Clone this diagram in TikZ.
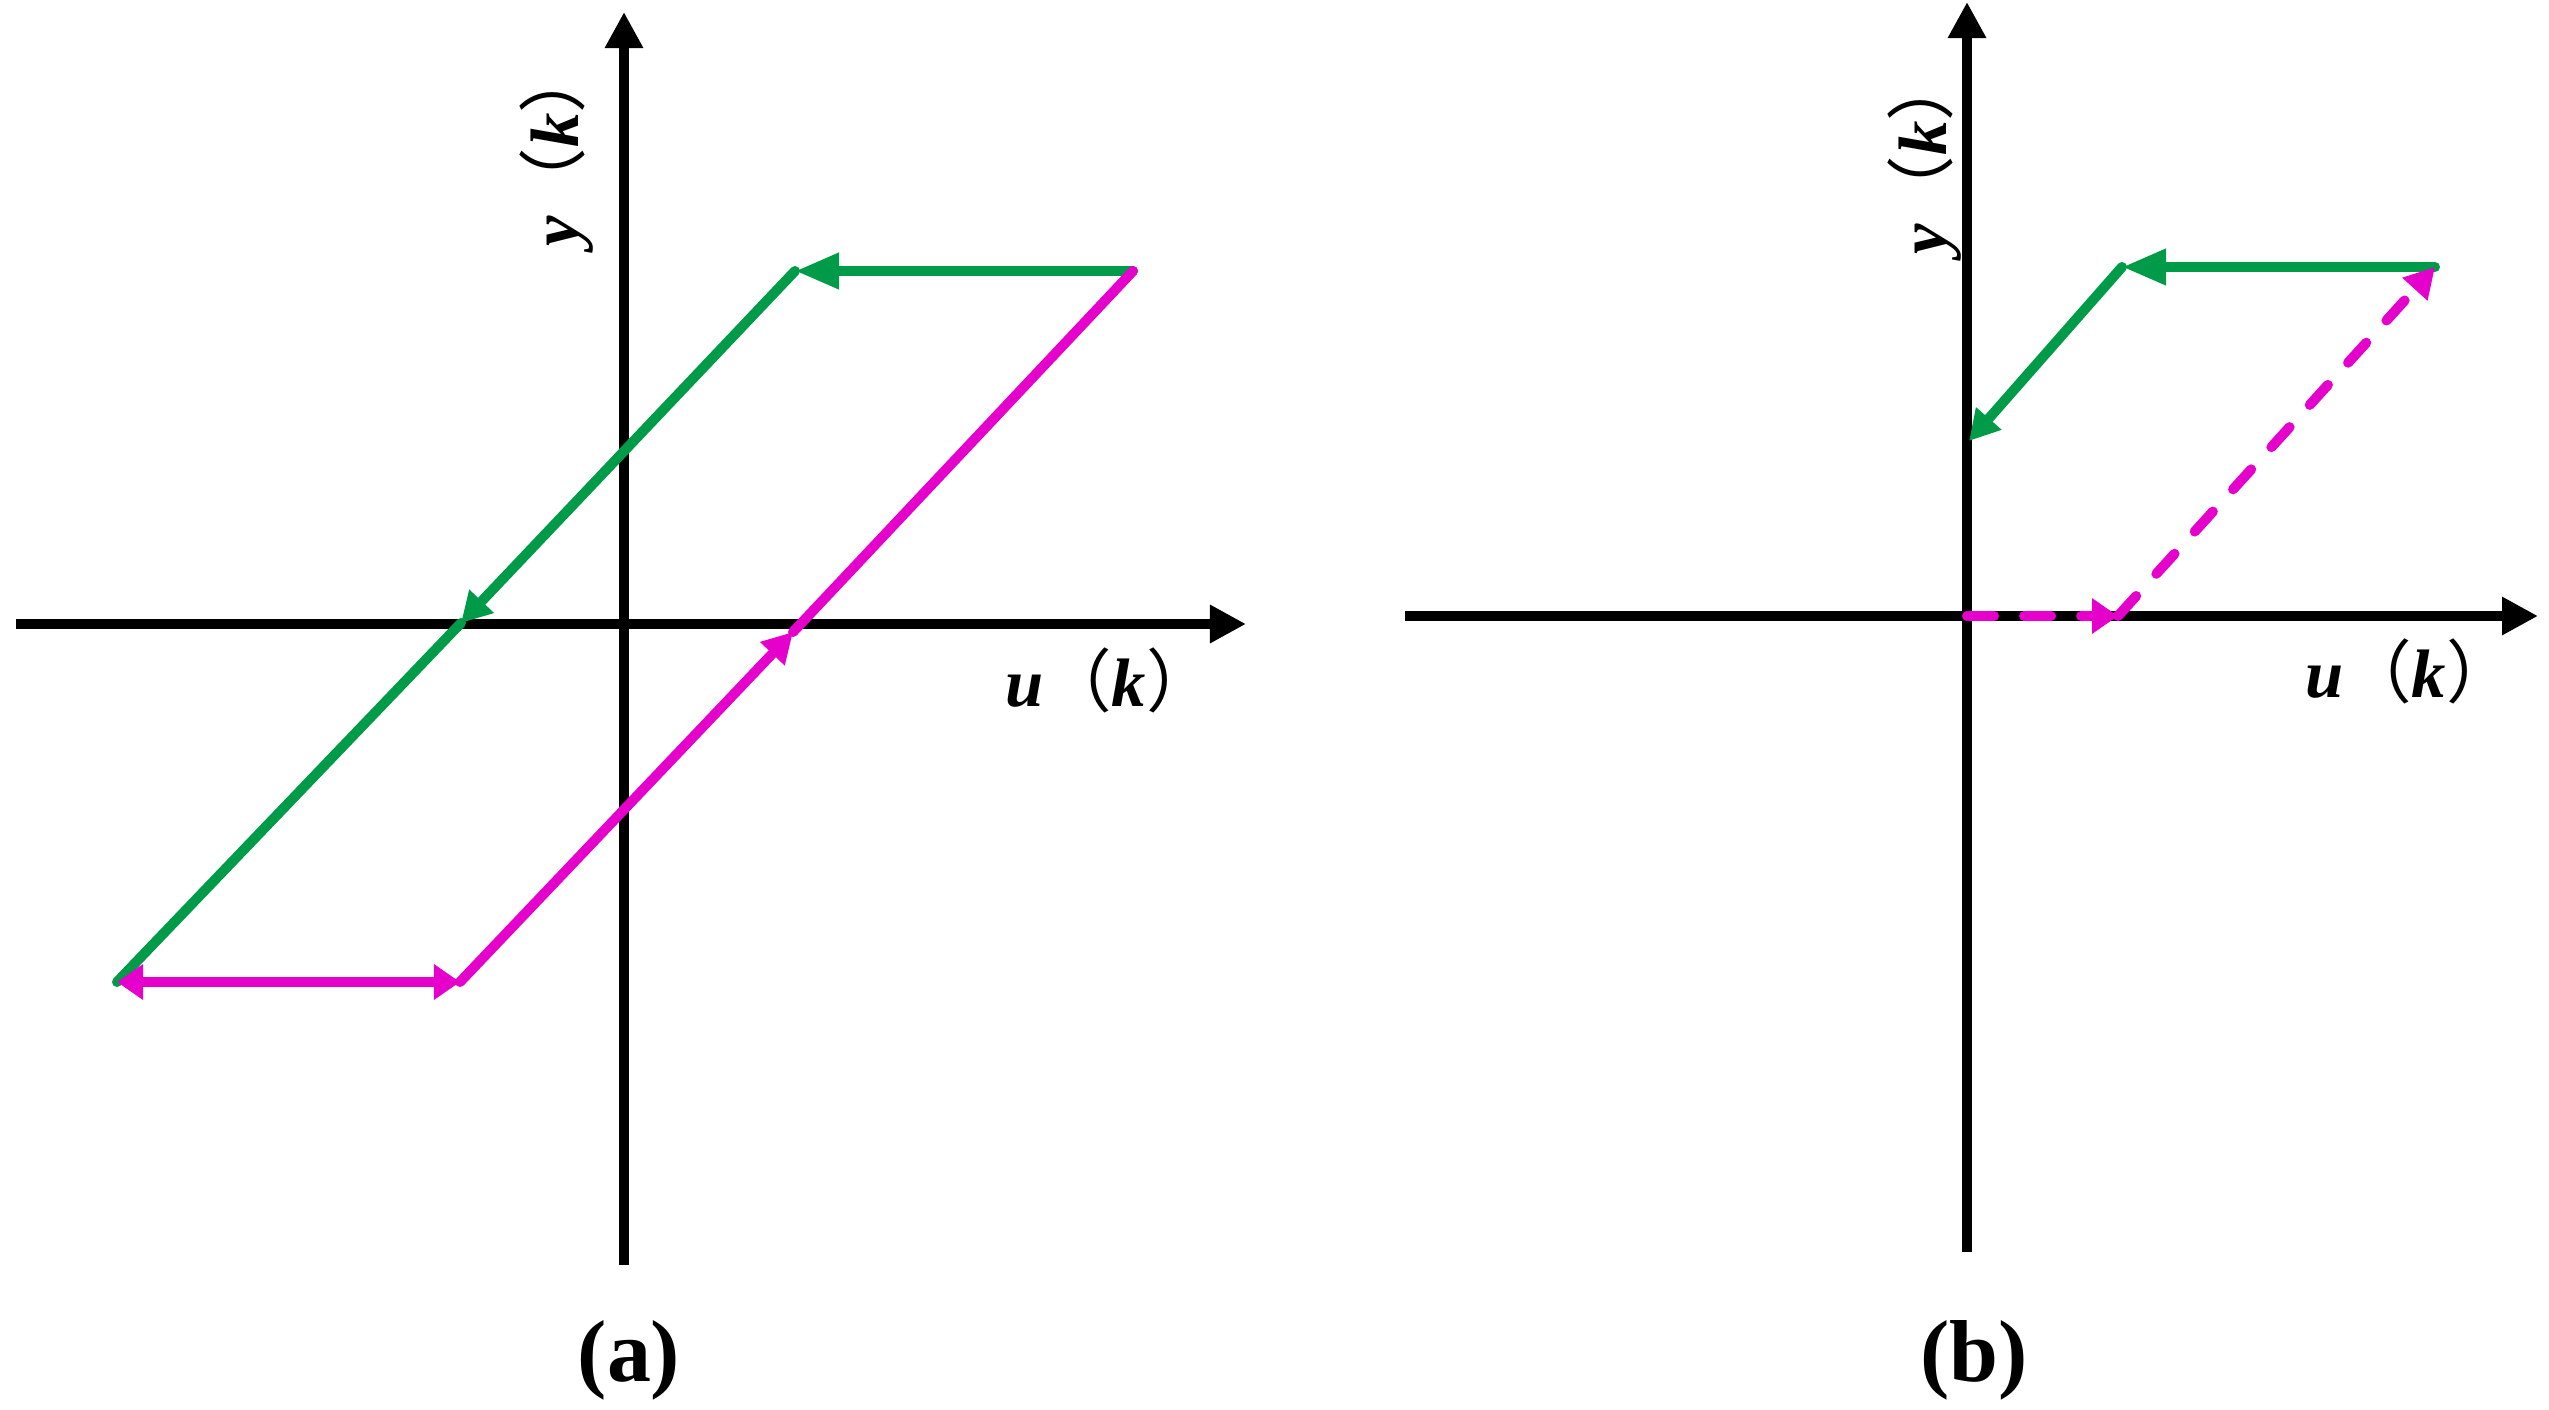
\documentclass[tikz,border=0pt]{standalone}
\usepackage{fontspec}
\setmainfont{Liberation Serif}
\newfontfamily\cjk{Noto Sans CJK SC}
\usetikzlibrary{arrows.meta}
\definecolor{pgreen}{RGB}{0,155,72}
\definecolor{pmag}{RGB}{230,0,204}
\tikzset{
 axisline/.style={line width=0.1cm, black, -{Triangle[length=0.36cm,width=0.36cm]}},
 gline/.style={line width=0.1cm, pgreen, line cap=round},
 mline/.style={line width=0.1cm, pmag, line cap=round},
 bigtip/.style={-{Triangle[length=0.44cm,width=0.34cm]}},
 midtip/.style={-{Triangle[length=0.30cm,width=0.32cm]}},
 dbltip/.style={{Triangle[length=0.26cm,width=0.34cm]}-{Triangle[length=0.26cm,width=0.34cm]}},
 smalltip/.style={-{Triangle[length=0.26cm,width=0.34cm]}},
 lbl/.style={font=\fontsize{19.5}{22}\selectfont, inner sep=0pt},
 captxt/.style={font=\fontsize{25}{30}\selectfont\bfseries, inner sep=0pt},
 dsh/.style={dash pattern=on 0.27cm off 0.30cm},
}
\newcommand{\vlab}[2]{{\bfseries\itshape #1}{\cjk （}{\bfseries\itshape #2}{\cjk ）}}
\begin{document}
\begin{tikzpicture}[x=0.01cm,y=-0.01cm]
\useasboundingbox (0,0) rectangle (2549,1409);
% ---------- panel (a) ----------
\coordinate (axl) at (16,624);
\coordinate (axr) at (1246,624);
\coordinate (ayb) at (624,1265);
\coordinate (ayt) at (624,12);
\draw[axisline] (axl) -- (axr);
\draw[axisline] (ayb) -- (ayt);
\coordinate (G1) at (1133,271);
\coordinate (G2) at (795,271);
\coordinate (G3) at (117,982);
\coordinate (Xg) at (461,623);
\coordinate (M3) at (460,982);
\coordinate (Xm) at (793,632);
\draw[gline,bigtip] (G1) -- (G2);
\draw[gline,midtip] (G2) -- (Xg);
\draw[gline] (Xg) -- (G3);
\draw[mline,dbltip] (G3) -- (M3);
\draw[mline,midtip] (M3) -- (Xm);
\draw[mline] (Xm) -- (G1);
\node[lbl, rotate=90] (ya) at (557,146) {\vlab{y}{k}};
\node[lbl] (ua) at (1110,680) {\vlab{u}{k}};
\node[captxt] (capa) at (629,1360) {(a)};
% ---------- panel (b) ----------
\coordinate (bxl) at (1405,616);
\coordinate (bxr) at (2538,616);
\coordinate (byb) at (1967,1252);
\coordinate (byt) at (1967,2);
\draw[axisline] (bxl) -- (bxr);
\draw[axisline] (byb) -- (byt);
\coordinate (B1) at (2435,267);
\coordinate (B2) at (2122,267);
\coordinate (B3) at (1969,441);
\coordinate (C0) at (1967,616);
\coordinate (C1) at (2118,616);
\draw[gline,bigtip] (B1) -- (B2);
\draw[gline,midtip] (B2) -- (B3);
\draw[mline,dsh,smalltip] (C0) -- (C1);
\draw[mline,dsh,midtip] (C1) -- (B1);
\node[lbl, rotate=90] (yb) at (1925,154) {\vlab{y}{k}};
\node[lbl] (ub) at (2410,671) {\vlab{u}{k}};
\node[captxt] (capb) at (1974,1360) {(b)};
\end{tikzpicture}
\end{document}
